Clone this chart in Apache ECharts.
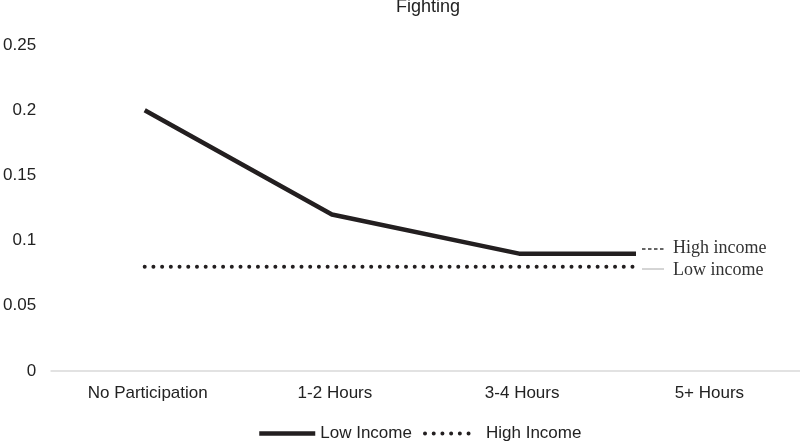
<!DOCTYPE html>
<html>
<head>
  <meta charset="utf-8">
  <script src="https://cdn.jsdelivr.net/npm/echarts@6/dist/echarts.min.js"></script>
</head>
<body style="margin:0">
  <div id="main" style="width: 800px;height:441px;"></div>
  <script type="text/javascript">

  var categories = ['No Participation', '1-2 Hours', '3-4 Hours', '5+ Hours'];
  var lowIncome = [0.2, 0.12, 0.09, 0.09];
  var highIncome = [0.08, 0.08, 0.08, 0.08];
  var yTicks = [0, 0.05, 0.1, 0.15, 0.2, 0.25];

  var myChart = echarts.init(document.getElementById('main'));

  var sans = '"Liberation Sans", Arial, sans-serif';
  var serif = '"Liberation Serif", "Times New Roman", serif';

  option = {
    animation: false,
    title: {
      text: 'Fighting',
      left: 423,
      textAlign: 'center',
      top: -7,
      textStyle: { fontFamily: sans, fontSize: 18, fontWeight: 'normal', color: '#222' }
    },
    grid: { left: 47, right: 0, top: 45, bottom: 70 },
    legend: [{
      data: ['Low Income'],
      left: 252,
      top: 420,
      itemWidth: 56,
      itemHeight: 14,
      itemStyle: { opacity: 0 },
      lineStyle: { width: 4.5 },
      textStyle: { fontFamily: sans, fontSize: 17, color: '#222' }
    }, {
      data: ['High Income'],
      left: 418,
      top: 420,
      itemWidth: 44,
      itemHeight: 14,
      itemStyle: { opacity: 0 },
      lineStyle: { width: 4 },
      textStyle: { fontFamily: sans, fontSize: 17, color: '#222', padding: [0, 0, 0, 12] }
    }],
    xAxis: {
      type: 'category',
      data: categories,
      axisLine: { lineStyle: { color: '#d9d9d9', width: 1.5 } },
      axisTick: { show: false },
      axisLabel: { fontFamily: sans, fontSize: 17, color: '#222', margin: 14, padding: [0, 0, 0, 6] }
    },
    yAxis: {
      type: 'value',
      min: 0,
      max: 0.25,
      interval: 0.05,
      axisLine: { show: false },
      axisTick: { show: false },
      splitLine: { show: false },
      axisLabel: {
        fontFamily: sans, fontSize: 17, color: '#222', margin: 15,
        formatter: function (v) {
          var t = yTicks.filter(function (k) { return Math.abs(k - v) < 1e-9; });
          return t.length ? String(t[0]) : '';
        }
      }
    },
    series: [{
      name: 'Low Income',
      type: 'line',
      data: lowIncome,
      symbol: 'none',
      lineStyle: { color: '#231f20', width: 4.5, cap: 'butt', join: 'round' },
      itemStyle: { color: '#231f20' }
    }, {
      name: 'High Income',
      type: 'line',
      data: highIncome,
      symbol: 'none',
      lineStyle: { color: '#231f20', width: 4, type: [0.01, 8.7], cap: 'round' },
      itemStyle: { color: '#231f20' }
    }],
    graphic: [
      { type: 'rect', shape: { x: 636, y: 232, width: 170, height: 50 }, style: { fill: '#fff' }, z: 100 },
      { type: 'line', shape: { x1: 642, y1: 249, x2: 664, y2: 249 }, style: { stroke: '#333', lineWidth: 1.5, lineDash: [3.5, 2.5] }, z: 101 },
      { type: 'line', shape: { x1: 642, y1: 269, x2: 664, y2: 269 }, style: { stroke: '#aaa', lineWidth: 1 }, z: 101 },
      { type: 'text', left: 673, top: 239, style: { text: 'High income', font: '18px ' + serif, fill: '#333' }, z: 101 },
      { type: 'text', left: 673, top: 261, style: { text: 'Low income', font: '18px ' + serif, fill: '#333' }, z: 101 }
    ]
  };

  myChart.setOption(option);

  </script>
</body>
</html>
